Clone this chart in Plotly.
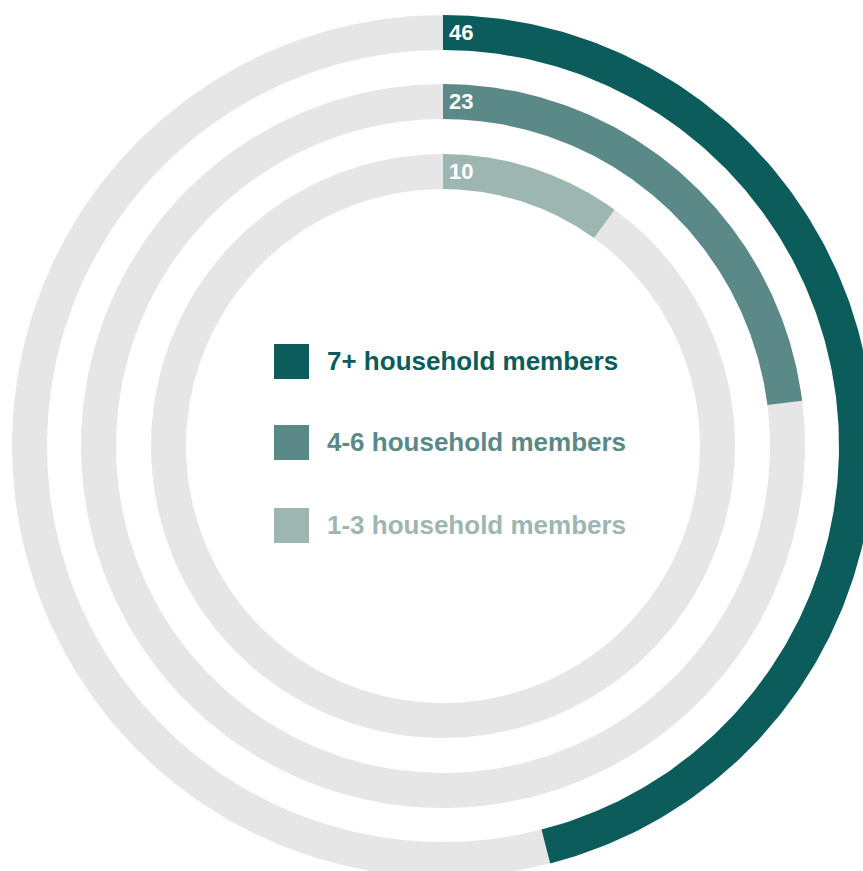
import numpy as np
import plotly.graph_objects as go

# Share of people (%) by household size
categories = ["7+ household members", "4-6 household members", "1-3 household members"]
values = [46, 23, 10]
value_labels = ["46", "23", "10"]

colors = ["#0b5c5a", "#5b8987", "#9db6b2"]
track_color = "#e6e6e6"

W, H = 863, 871
CX, CY = 443, 446          # ring centre in pixels (from left / from top)
RING_WIDTH = 35
OUTER_RADII = [431, 362, 292]  # outer edge of each ring, outermost first


def sector(r_in, r_out, start_pct, end_pct, n=240):
    """Annular sector, angles measured clockwise from 12 o'clock in percent."""
    a = np.linspace(start_pct, end_pct, n) / 100 * 2 * np.pi
    xo, yo = r_out * np.sin(a), r_out * np.cos(a)
    xi, yi = r_in * np.sin(a[::-1]), r_in * np.cos(a[::-1])
    x = np.concatenate([xo, xi, xo[:1]])
    y = np.concatenate([yo, yi, yo[:1]])
    return x, y


fig = go.Figure()

for cat, val, col, r_out in zip(categories, values, colors, OUTER_RADII):
    r_in = r_out - RING_WIDTH
    # grey remainder of the ring
    gx, gy = sector(r_in, r_out, val, 100)
    fig.add_trace(go.Scatter(x=gx, y=gy, mode="lines", fill="toself",
                             fillcolor=track_color, line=dict(width=0),
                             hoverinfo="skip", showlegend=False))
    # coloured share
    vx, vy = sector(r_in, r_out, 0, val)
    fig.add_trace(go.Scatter(x=vx, y=vy, mode="lines", fill="toself",
                             fillcolor=col, line=dict(width=0),
                             name=cat, hoverinfo="name", showlegend=False))

# value labels at the start of each arc
for lab, r_out in zip(value_labels, OUTER_RADII):
    r_mid = r_out - RING_WIDTH / 2
    fig.add_annotation(x=4, y=r_mid, text=lab, showarrow=False,
                       xanchor="left", yanchor="middle",
                       font=dict(family="Liberation Sans, Arial", size=22,
                                 color="white", weight="bold"))

# legend in the middle of the rings
legend_y = [85.5, 4.5, -78.5]
fig.add_trace(go.Scatter(x=[-151.5] * 3, y=[84.5, 3.5, -79.5], mode="markers",
                         marker=dict(symbol="square", size=35, color=colors,
                                     line=dict(width=0)),
                         hoverinfo="skip", showlegend=False))
for cat, col, ly in zip(categories, colors, legend_y):
    fig.add_annotation(x=-118, y=ly, text=cat, showarrow=False,
                       xanchor="left", yanchor="middle",
                       font=dict(family="Liberation Sans, Arial", size=26,
                                 color=col, weight="bold"))

fig.update_layout(
    width=W, height=H,
    margin=dict(l=0, r=0, t=0, b=0),
    paper_bgcolor="white", plot_bgcolor="white",
    xaxis=dict(range=[-CX, W - CX], visible=False, fixedrange=True),
    yaxis=dict(range=[-(H - CY), CY], visible=False, fixedrange=True),
    showlegend=False,
)

fig.write_html("out.html")
